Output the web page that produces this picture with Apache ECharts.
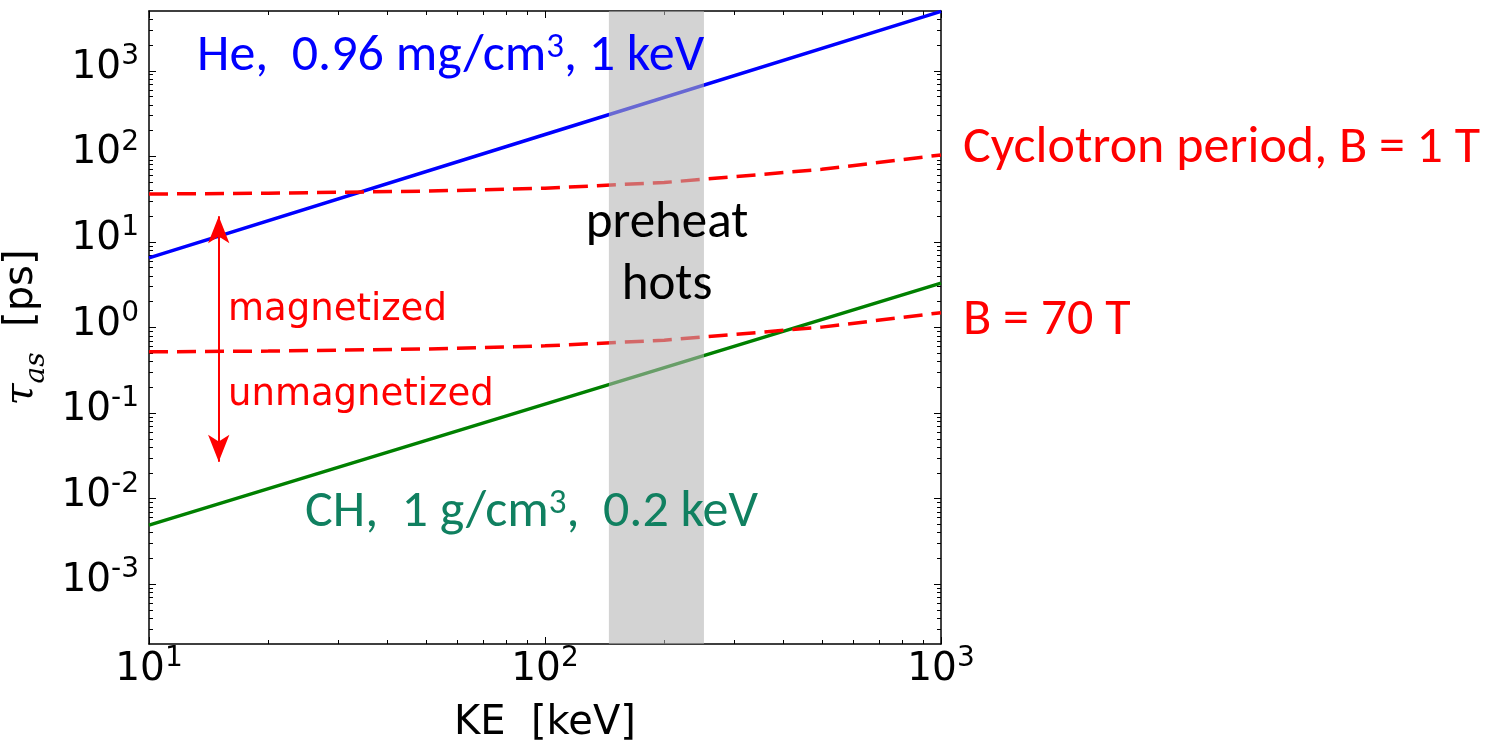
<!DOCTYPE html>
<html><head><meta charset="utf-8">
<script src="https://cdn.jsdelivr.net/npm/echarts@6/dist/echarts.min.js"></script>
<style>html,body{margin:0;padding:0;background:#fff}#c{width:1502px;height:743px}</style>
</head><body><div id="c"></div>
<script>
// ---- data (raw units: keV, ps) ----
const heKE = [10, 100, 1000];
const heTau = [6.5, 180, 4950];
const chKE = [10, 100, 1000];
const chTau = [0.0049, 0.127, 3.3];
const cycKE = [10, 20, 50, 100, 200, 500, 1000];
const cyc1T = [36.3, 37.1, 39.2, 42.5, 49.5, 70.5, 104];
const cyc70T = [0.52, 0.53, 0.56, 0.61, 0.71, 1.01, 1.49];
const preheatBand = [145, 252];
const arrowKE = 15;
const arrowEnds = [20, 0.027];
const xRange = [10, 1000];
const yRange = [2e-4, 5e3];
const xMajorExp = [1, 2, 3];
const yMajorExp = [-3, -2, -1, 0, 1, 2, 3];
const minorMult = [2, 3, 4, 5, 6, 7, 8, 9];

const L = Math.log10;
function minors(range) {
  const out = [];
  for (let e = Math.floor(L(range[0])) - 1; e <= Math.ceil(L(range[1])); e++) {
    minorMult.forEach(m => { const v = m * Math.pow(10, e); if (v > range[0] * 1.0001 && v < range[1] * 0.9999) out.push(L(v)); });
  }
  return out;
}
const pairs = (xs, ys) => xs.map((x, i) => [L(x), L(ys[i])]);

const tickFont = 'DejaVu Sans';
const labelRich = {
  b: { fontFamily: tickFont, fontSize: 39, lineHeight: 39, padding: [11, 0, 0, 0], color: '#000' },
  s: { fontFamily: tickFont, fontSize: 28, lineHeight: 28, verticalAlign: 'top', color: '#000' }
};
const fmt = v => '{b|10}{s|' + Math.round(v) + '}';

function axis(dim, pos, values, len, showLine, labels, extra) {
  const r = dim === 'x' ? xRange : yRange;
  const a = {
    type: 'value', gridIndex: 0, position: pos,
    min: L(r[0]), max: L(r[1]),
    splitLine: { show: false },
    axisLine: { show: showLine, onZero: false, lineStyle: { color: '#000', width: 1.5 } },
    axisTick: { show: true, inside: true, length: len, customValues: values, lineStyle: { color: '#000', width: 1 } },
    axisLabel: labels ? Object.assign({ show: true, customValues: values, formatter: fmt, rich: labelRich }, labels) : { show: false }
  };
  return Object.assign(a, extra || {});
}

const xMinor = minors(xRange), yMinor = minors(yRange);

const CAL = 'Carlito, Lato, sans-serif';
function richText(color) {
  return {
    a: { fontFamily: CAL, fontSize: 52, lineHeight: 56, fill: color, color: color },
    p: { fontFamily: CAL, fontSize: 35, lineHeight: 35, padding: [0, 0, 17, 0], fill: color, color: color }
  };
}
function label(x, top, text, color) {
  return { type: 'text', z: 100, left: x, top: top, style: { text: text, fill: color, rich: richText(color) } };
}

const option = {
  animation: false,
  backgroundColor: '#fff',
  grid: { left: 149, top: 11, width: 792, height: 633, containLabel: false, outerBoundsMode: 'none' },
  xAxis: [
    axis('x', 'bottom', xMajorExp, 7, true, { margin: 1 }, {
      name: 'KE  [keV]', nameLocation: 'middle', nameGap: 60,
      nameTextStyle: { fontFamily: tickFont, fontSize: 40, color: '#000' }
    }),
    axis('x', 'bottom', xMinor, 4, false, null),
    axis('x', 'top', xMajorExp, 7, true, null),
    axis('x', 'top', xMinor, 4, false, null)
  ],
  yAxis: [
    axis('y', 'left', yMajorExp, 7, true, { margin: 10, padding: [0, 0, 17, 0] }, {
      name: '{t|τ}{s|as}  {n|[ps]}', nameLocation: 'middle', nameRotate: 90, nameGap: 80,
      nameTextStyle: { fontFamily: tickFont, fontSize: 40, color: '#000', rich: {
        t: { fontFamily: 'DejaVu Serif', fontStyle: 'italic', fontSize: 40, lineHeight: 44, verticalAlign: 'top', color: '#000' },
        s: { fontFamily: 'DejaVu Serif', fontStyle: 'italic', fontSize: 28, lineHeight: 28, verticalAlign: 'top', padding: [21, 0, 0, 0], color: '#000' },
        n: { fontFamily: tickFont, fontSize: 40, lineHeight: 44, verticalAlign: 'top', color: '#000' }
      } }
    }),
    axis('y', 'left', yMinor, 4, false, null),
    axis('y', 'right', yMajorExp, 7, true, null),
    axis('y', 'right', yMinor, 4, false, null)
  ],
  series: [
    { name: 'He', type: 'line', z: 2, showSymbol: false, symbol: 'none', data: pairs(heKE, heTau),
      lineStyle: { color: '#0000ff', width: 3.5 } },
    { name: 'CH', type: 'line', z: 2, showSymbol: false, symbol: 'none', data: pairs(chKE, chTau),
      lineStyle: { color: '#008000', width: 3.5 } },
    { name: 'Cyclotron 1 T', type: 'line', z: 2, showSymbol: false, symbol: 'none', data: pairs(cycKE, cyc1T),
      lineStyle: { color: '#ff0000', width: 3.5, type: [19, 9] } },
    { name: 'Cyclotron 70 T', type: 'line', z: 2, showSymbol: false, symbol: 'none', data: pairs(cycKE, cyc70T),
      lineStyle: { color: '#ff0000', width: 3.5, type: [19, 9] },
      markLine: { silent: true, z: 6, symbol: ['arrow', 'arrow'], symbolSize: [16, 27], label: { show: false },
        lineStyle: { color: '#ff0000', width: 2, type: 'solid' },
        data: [[{ coord: [L(arrowKE), L(arrowEnds[0])] }, { coord: [L(arrowKE), L(arrowEnds[1])] }]] } },
    { name: 'preheat', type: 'line', z: 3, data: [], symbol: 'none',
      markArea: { silent: true, z: 4,
        itemStyle: { color: 'rgba(180,180,180,0.58)' },
        data: [[{ xAxis: L(preheatBand[0]) }, { xAxis: L(preheatBand[1]) }]] } }
  ],
  graphic: [
    label(197, 31, '{a|He,  0.96 mg/cm}{p|3}{a|, 1 keV}', '#0000ff'),
    label(963, 123, '{a|Cyclotron period, B = 1 T}', '#ff0000'),
    label(963, 295, '{a|B = 70 T}', '#ff0000'),
    label(305, 487, '{a|CH,  1 g/cm}{p|3}{a|,  0.2 keV}', '#108060'),
    { type: 'text', z: 100, x: 667, y: 224, style: { text: 'preheat', fill: '#000', font: '51px Carlito, Lato, sans-serif', align: 'center', verticalAlign: 'middle' } },
    { type: 'text', z: 100, x: 667, y: 286, style: { text: 'hots', fill: '#000', font: '51px Carlito, Lato, sans-serif', align: 'center', verticalAlign: 'middle' } },
    { type: 'text', z: 100, left: 228, top: 314 - 22, style: { text: 'magnetized', fill: '#ff0000', font: '37px "DejaVu Sans"' } },
    { type: 'text', z: 100, left: 228, top: 399 - 22, style: { text: 'unmagnetized', fill: '#ff0000', font: '37px "DejaVu Sans"' } }
  ]
};
const chart = echarts.init(document.getElementById('c'), null, { renderer: 'canvas' });
chart.setOption(option);
</script></body></html>
